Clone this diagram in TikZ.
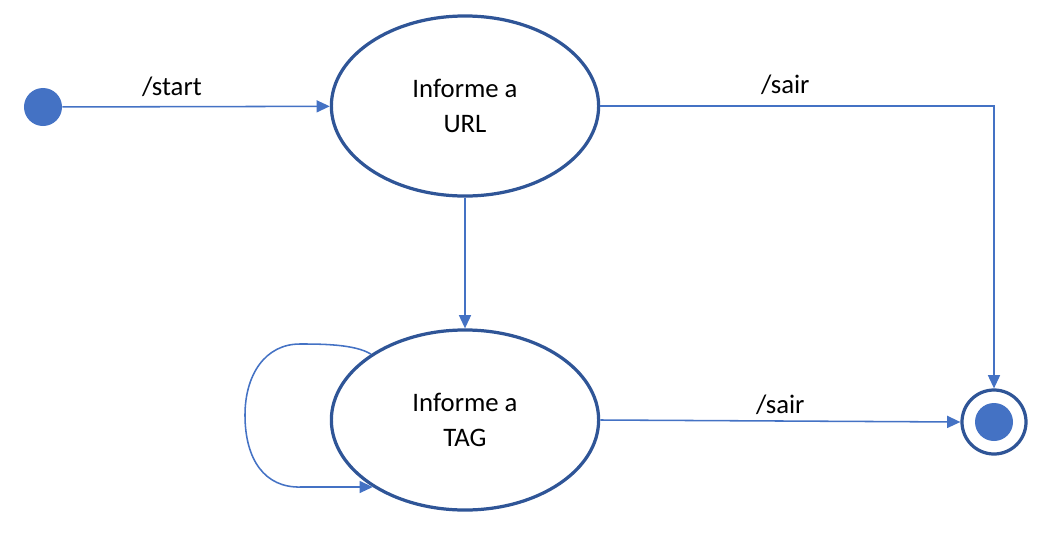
\documentclass[tikz,border=0pt]{standalone}
\usepackage{fontspec}
\setmainfont{Carlito}
\usetikzlibrary{arrows.meta, shapes.geometric, calc}
\definecolor{StateBlue}{HTML}{2F5597}
\definecolor{FlowBlue}{HTML}{4472C4}
\tikzset{
  state/.style={ellipse, draw=StateBlue, line width=2.3pt, fill=white, align=center, minimum width=6.68cm, minimum height=4.5cm, inner sep=0pt, font=\fontsize{19}{25}\selectfont},
  initdot/.style={circle, fill=FlowBlue, minimum size=0.95cm, inner sep=0pt},
  finalring/.style={circle, draw=StateBlue, line width=2.3pt, fill=white, minimum size=1.6cm, inner sep=0pt},
  finaldot/.style={circle, fill=FlowBlue, minimum size=0.95cm, inner sep=0pt},
  trans/.style={-{Triangle[length=3.3mm, width=3mm]}, line width=1.1pt, draw=FlowBlue},
  label/.style={font=\fontsize{19}{22}\selectfont, text=black}
}

\begin{document}
\begin{tikzpicture}[x=0.025cm, y=-0.025cm]
\useasboundingbox (0,0) rectangle (1054,534);
\node[initdot] (init) at (43,107) {};
\node[state] (url) at (465,106) {Informe a\\URL};
\node[state] (tag) at (465,420) {Informe a\\TAG};
\node[finalring] (fim) at (994,422) {};
\node[finaldot] (fimdot) at (994,422) {};
\coordinate (loopend) at (tag.216);
\draw[trans] (init) -- (url) node[label, pos=0.41, above=3pt] {/start};
\draw[trans] (url.east) -| (fim.north) node[label, pos=0.235, above=4pt] {/sair};
\draw[trans] (url) -- (tag);
\draw[trans] (tag.east) -- (fim.west) node[label, midway, above=1pt] {/sair};
% laco em TAG
\draw[trans] (tag.145) .. controls (355,344) and (320,344) .. (300,344)
  .. controls (265,344) and (245,375) .. (245,415)
  .. controls (245,460) and (265,488) .. ($(loopend)+(-72,0)$) -- (loopend);
\end{tikzpicture}
\end{document}
